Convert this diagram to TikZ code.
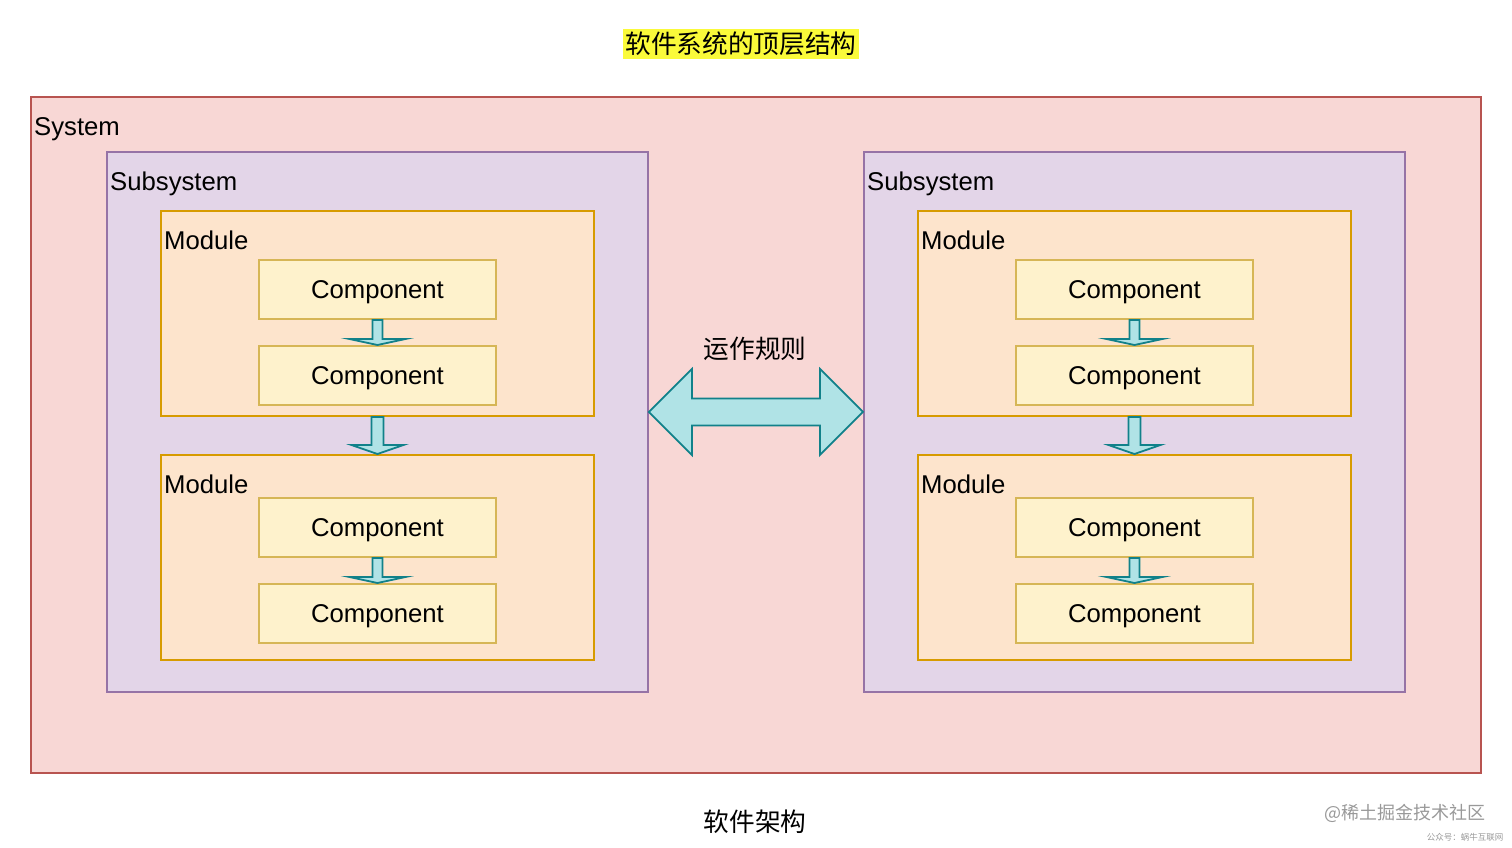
\documentclass[tikz,border=0pt]{standalone}
\usepackage{fontspec}
\setmainfont{Liberation Sans}
\newfontfamily\cjk{Noto Sans CJK SC}
\usetikzlibrary{calc,positioning}

\definecolor{sysfill}{HTML}{F8D7D5}  \definecolor{sysline}{HTML}{B85450}
\definecolor{subfill}{HTML}{E3D5E8}  \definecolor{subline}{HTML}{9673A6}
\definecolor{modfill}{HTML}{FDE4CC}  \definecolor{modline}{HTML}{D79B00}
\definecolor{compfill}{HTML}{FEF2CC} \definecolor{compline}{HTML}{D6B656}
\definecolor{flowfill}{HTML}{B0E3E6} \definecolor{flowline}{HTML}{11818A}
\definecolor{marker}{HTML}{FAFA3A}

\tikzset{
  box/.style={draw, line width=1.9pt, anchor=north west, inner sep=0pt},
  sysbox/.style={box, draw=sysline, fill=sysfill, minimum width=1450pt, minimum height=676pt},
  subbox/.style={box, draw=subline, fill=subfill, minimum width=541pt, minimum height=540pt},
  modbox/.style={box, draw=modline, fill=modfill, minimum width=433pt, minimum height=205pt},
  compbox/.style={box, draw=compline, fill=compfill, minimum width=237pt, minimum height=59pt, text depth=0pt},
  lbl/.style={anchor=base west, inner sep=0pt},
  flow/.style={draw=flowline, fill=flowfill, line width=1.8pt, line join=miter},
}

% down arrow: from, to, shaft half width, head half width, head length
\newcommand{\flowdown}[5]{%
  \draw[flow] ($(#1.south)+(-#3,0)$) -- ($(#2.north)+(-#3,-#5)$) -- ($(#2.north)+(-#4,-#5)$)
    -- (#2.north) -- ($(#2.north)+(#4,-#5)$) -- ($(#2.north)+(#3,-#5)$) -- ($(#1.south)+(#3,0)$) -- cycle;}

\begin{document}
\begin{tikzpicture}[x=1pt, y=-1pt, font=\fontsize{25.7}{30}\selectfont]
  \useasboundingbox (0,0) rectangle (1512,847);

  \node[fill=marker, inner xsep=2pt, inner ysep=0pt, minimum height=30pt] (title) at (741,44) {\cjk 软件系统的顶层结构};

  \node[sysbox] (sys) at (30,96) {};
  \node[lbl] (syslbl) at ($(sys.north west)+(4,39)$) {System};

  \foreach \s/\dx in {L/0,R/757}{
    \node[subbox] (sub\s) at (106+\dx,151) {};
    \node[lbl] at ($(sub\s.north west)+(4,39)$) {Subsystem};

    \node[modbox] (mod\s1) at (160+\dx,210) {};
    \node[modbox] (mod\s2) at (160+\dx,454) {};
    \node[lbl] at ($(mod\s1.north west)+(4,39)$) {Module};
    \node[lbl] at ($(mod\s2.north west)+(4,39)$) {Module};

    \node[compbox] (comp\s1a) at (258+\dx,259) {Component};
    \node[compbox] (comp\s1b) at (258+\dx,345) {Component};
    \node[compbox] (comp\s2a) at (258+\dx,497) {Component};
    \node[compbox] (comp\s2b) at (258+\dx,583) {Component};

    \flowdown{comp\s1a}{comp\s1b}{5}{28}{6}
    \flowdown{comp\s2a}{comp\s2b}{5}{28}{6}
    \flowdown{mod\s1}{mod\s2}{6}{26}{9}
  }

  % rule arrow between the two subsystems
  \coordinate (ruleL) at ($(subL.east)+(0,-10)$);
  \coordinate (ruleR) at ($(subR.west)+(0,-10)$);
  \draw[flow] (ruleL) -- ++(43,-43) -- ++(0,29.5) -- ($(ruleR)+(-43,-13.5)$) -- ++(0,-29.5)
    -- (ruleR) -- ++(-43,43) -- ++(0,-29.5) -- ($(ruleL)+(43,13.5)$) -- ++(0,29.5) -- cycle;
  \node (rulelbl) at (755,349) {\cjk 运作规则};

  \node (caption) at (755,822) {\cjk 软件架构};

  \node[text=black!40, anchor=east, font=\fontsize{18}{20}\selectfont] (mark) at (1489,813) {\cjk @稀土掘金技术社区};
  \node[text=black!40, anchor=east, font=\fontsize{8.5}{10}\selectfont] (mark2) at (1507,837) {\cjk 公众号：蜗牛互联网};
\end{tikzpicture}
\end{document}
